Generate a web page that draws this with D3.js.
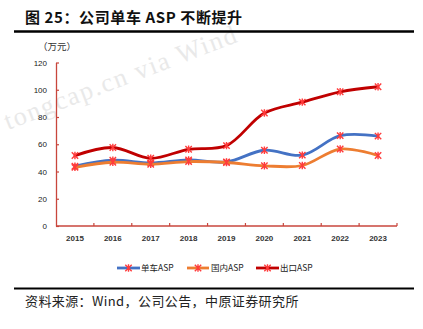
<!DOCTYPE html>
<html>
<head>
<meta charset="utf-8">
<script src="https://cdn.jsdelivr.net/npm/d3@7"></script>
<style>
  body { margin: 0; background: #fff; }
  svg { display: block; font-family: "Noto Sans CJK SC", "Noto Sans", sans-serif; }
</style>
</head>
<body>
<svg id="drawing_region"></svg>
<script>
// 年份与三条 ASP 序列（万元）
const years = ['2015', '2016', '2017', '2018', '2019', '2020', '2021', '2022', '2023'];
const aspTotal = [43.9, 48.3, 46.3, 48.5, 47.0, 55.6, 52.0, 66.3, 66.0];
const aspDomestic = [43.0, 46.8, 45.3, 47.3, 46.6, 44.2, 44.4, 56.5, 51.7];
const aspExport = [51.7, 57.6, 49.7, 56.3, 59.0, 82.9, 90.9, 98.5, 102.2];
const yTicks = [0, 20, 40, 60, 80, 100, 120];

const series = [
    { name: '单车ASP', values: aspTotal, color: '#4472C4' },
    { name: '国内ASP', values: aspDomestic, color: '#ED7D31' },
    { name: '出口ASP', values: aspExport, color: '#C00000' }
];

const config = {
    width: 423,
    height: 329,
    margin: { top: 62.5, right: 26, bottom: 103, left: 56 }
};

const svg = d3.select('#drawing_region')
    .attr('width', config.width)
    .attr('height', config.height);

const axisColor = '#C8463C';
const markColor = '#FF3B3B';

// 水印（先画，位于最底层）
svg.append('text')
    .attr('transform', 'translate(8,130) rotate(-21)')
    .attr('font-family', '"Liberation Serif", "DejaVu Serif", serif')
    .attr('font-size', 26)
    .attr('letter-spacing', 1.8)
    .attr('fill', '#e9e9e9')
    .text('tongcap.cn via Wind');

// 标题与分隔线
svg.append('text')
    .attr('x', 25).attr('y', 23)
    .attr('font-size', 15).attr('font-weight', 'bold')
    .attr('letter-spacing', 0.6)
    .attr('fill', '#111')
    .text('图 25：公司单车 ASP 不断提升');

svg.append('line')
    .attr('x1', 14).attr('x2', 414)
    .attr('y1', 31.5).attr('y2', 31.5)
    .attr('stroke', '#000').attr('stroke-width', 2.5);

const innerLeft = config.margin.left;
const innerRight = config.width - config.margin.right;
const innerTop = config.margin.top;
const innerBottom = config.height - config.margin.bottom;

const xscale = d3.scaleBand()
    .domain(years)
    .range([innerLeft, innerRight]);

const yscale = d3.scaleLinear()
    .domain([0, 120])
    .range([innerBottom, innerTop]);

// 单位
svg.append('text')
    .attr('x', 38).attr('y', 50)
    .attr('font-size', 9.5).attr('fill', '#333')
    .text('（万元）');

// y 轴
const yaxis = d3.axisRight(yscale)
    .tickValues(yTicks)
    .tickSize(3)
    .tickSizeOuter(0)
    .tickFormat(d3.format('d'));

const yg = svg.append('g')
    .attr('transform', `translate(${innerLeft},0)`)
    .call(yaxis);
yg.select('.domain').attr('stroke', axisColor).attr('stroke-width', 1.3);
yg.selectAll('.tick line').attr('stroke', axisColor).attr('stroke-width', 1.2);
yg.selectAll('.tick text')
    .attr('x', -9).attr('text-anchor', 'end')
    .attr('font-size', 8).attr('font-family', '"Liberation Sans", Arial, sans-serif')
    .attr('fill', '#222');

// x 轴：刻度位于类别边界，向内
const xg = svg.append('g')
    .attr('transform', `translate(0,${innerBottom})`);
xg.append('line')
    .attr('x1', innerLeft).attr('x2', innerRight)
    .attr('stroke', axisColor).attr('stroke-width', 1.3);
xg.selectAll('.xtick')
    .data(years)
    .join('line')
    .attr('class', 'xtick')
    .attr('x1', d => xscale(d) + xscale.bandwidth())
    .attr('x2', d => xscale(d) + xscale.bandwidth())
    .attr('y1', 0).attr('y2', -3)
    .attr('stroke', axisColor).attr('stroke-width', 1.2);
xg.selectAll('.xlabel')
    .data(years)
    .join('text')
    .attr('class', 'xlabel')
    .attr('x', d => xscale(d) + xscale.bandwidth() / 2)
    .attr('y', 15)
    .attr('text-anchor', 'middle')
    .attr('font-size', 8).attr('font-weight', 'bold')
    .attr('font-family', '"Liberation Sans", Arial, sans-serif')
    .attr('fill', '#333')
    .text(d => d);

// 折线
const line = d3.line()
    .x((d, i) => xscale(years[i]) + xscale.bandwidth() / 2)
    .y(d => yscale(d))
    .curve(d3.curveCatmullRom.alpha(0.5));

function drawMarker(g, x, y) {
    const s = 3.2;
    g.append('path')
        .attr('d', `M${x - s},${y - s}L${x + s},${y + s}M${x - s},${y + s}L${x + s},${y - s}M${x},${y - s - 0.5}L${x},${y + s + 0.5}`)
        .attr('stroke', markColor).attr('stroke-width', 1.4).attr('fill', 'none');
}

series.forEach(s => {
    const g = svg.append('g');
    g.append('path')
        .datum(s.values)
        .attr('d', line)
        .attr('fill', 'none')
        .attr('stroke', s.color)
        .attr('stroke-width', 2.8)
        .attr('stroke-linecap', 'round');
    s.values.forEach((v, i) => {
        drawMarker(g, xscale(years[i]) + xscale.bandwidth() / 2, yscale(v));
    });
});

// 图例
const legendItems = [
    { x0: 117, x1: 140, tx: 141 },
    { x0: 187, x1: 209, tx: 211 },
    { x0: 256, x1: 279, tx: 280 }
];
const ly = 268;
series.forEach((s, i) => {
    const it = legendItems[i];
    const g = svg.append('g');
    g.append('line')
        .attr('x1', it.x0).attr('x2', it.x1)
        .attr('y1', ly).attr('y2', ly)
        .attr('stroke', s.color).attr('stroke-width', 2.8);
    drawMarker(g, (it.x0 + it.x1) / 2, ly);
    g.append('text')
        .attr('x', it.tx).attr('y', ly + 3)
        .attr('font-size', 8.5).attr('fill', '#222')
        .text(s.name);
});

// 底部分隔线与来源
svg.append('line')
    .attr('x1', 14).attr('x2', 414)
    .attr('y1', 288.5).attr('y2', 288.5)
    .attr('stroke', '#000').attr('stroke-width', 2.2);

svg.append('text')
    .attr('x', 25).attr('y', 306)
    .attr('font-size', 13).attr('fill', '#222')
    .attr('letter-spacing', 0.4)
    .text('资料来源：Wind，公司公告，中原证券研究所');
</script>
</body>
</html>
